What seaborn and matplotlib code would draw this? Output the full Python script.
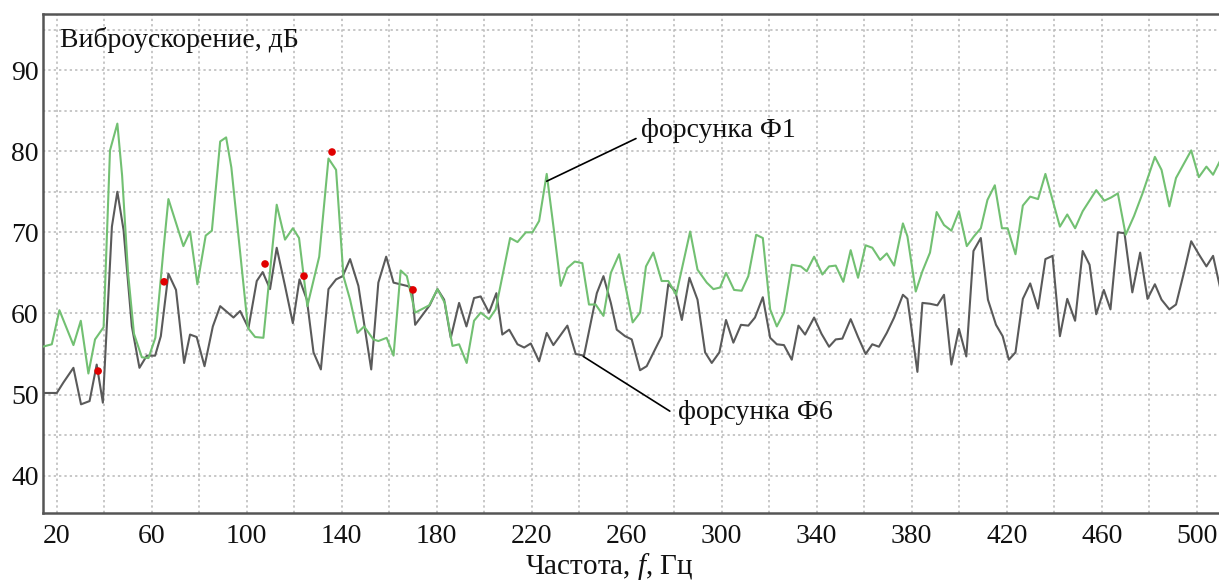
import numpy as np
import pandas as pd
import matplotlib
matplotlib.use("Agg")
import matplotlib.pyplot as plt
import seaborn as sns
from matplotlib.ticker import MultipleLocator

# ---------------- data ----------------
f1_freq = [14, 17.9, 21.1, 27, 30.1, 33.3, 36.1, 39.7, 42.4, 45.5, 47.5, 50, 52.5,
           55.8, 58.6, 61.5, 64.9, 67, 73.3, 76.1, 79.2, 82.7, 85.3, 88.8, 91.3,
           93.5, 100.5, 103.5, 107, 112.6, 116.1, 119.4, 122, 125.5, 130.5, 134.4,
           137.6, 140.7, 143.5, 146.6, 149.4, 153.3, 155.4, 158.9, 161.8, 164.8,
           167.4, 170.9, 176.8, 180.3, 183.4, 186.6, 189.4, 192.6, 195.7, 198.5,
           202, 204.8, 210.9, 214, 217.5, 220.3, 223.1, 226.3, 229.4, 232.2, 235,
           238.1, 241.3, 244.1, 246.9, 250.2, 253.3, 256.8, 262.5, 265.6, 268.1,
           271.2, 274.7, 277.5, 280.8, 286.7, 289.8, 293.7, 296.5, 299.3, 301.8,
           305.2, 308.4, 311.2, 314.5, 317.3, 320.4, 323.2, 326.2, 329.5, 333.3,
           335.8, 338.9, 342.4, 345.2, 348, 351.2, 354.3, 357.4, 360.6, 363.4,
           366.7, 369.5, 372.6, 376.3, 378.2, 381.7, 384.5, 387.7, 390.5, 393.6,
           396.7, 399.9, 403.2, 406.2, 409.1, 411.9, 415, 418, 420.4, 423.7, 426.8,
           429.9, 433.2, 436.3, 442.4, 445.5, 448.8, 452, 457.7, 461.1, 464, 466.8,
           470.1, 473.6, 477.2, 482.4, 485.2, 488.5, 491.3, 497.7, 500.9, 504.1,
           506.9, 510]
f1_level = [55.9, 56.2, 60.4, 56.1, 59.1, 52.6, 56.8, 58.3, 80.1, 83.4, 77, 65, 57.5,
            54.6, 54.5, 57, 67.8, 74.1, 68.3, 70.1, 63.6, 69.6, 70.2, 81.2, 81.7,
            78, 58.2, 57.1, 57, 73.4, 69.1, 70.5, 69.3, 60.9, 67, 79.1,
            77.7, 64.6, 61.7, 57.6, 58.4, 56.8, 56.6, 57, 54.8, 65.3,
            64.6, 60.1, 61, 63, 61.3, 56, 56.2, 53.9, 59.1, 60.1,
            59.3, 60.5, 69.3, 68.8, 70, 70, 71.4, 77.2, 70.1, 63.4, 65.6,
            66.4, 66.2, 61.1, 61.1, 59.7, 65, 67.3, 58.9, 60.1, 65.8,
            67.5, 64, 64, 62.3, 70.1, 65.4, 63.8, 63, 63.2, 65,
            62.9, 62.8, 64.6, 69.7, 69.3, 60.5, 58.4, 60.1, 66, 65.8,
            65.2, 67, 64.8, 65.8, 65.9, 63.9, 67.8, 64.4, 68.4, 68.1,
            66.6, 67.4, 65.9, 71.1, 69.5, 62.7, 65.2, 67.5, 72.5, 70.9,
            70.2, 72.6, 68.3, 69.5, 70.5, 74, 75.8, 70.5, 70.5, 67.3, 73.3,
            74.4, 74.1, 77.2, 70.7, 72.2, 70.5, 72.6, 75.2, 73.9, 74.3, 74.8,
            69.7, 72, 74.8, 79.3, 77.7, 73.2, 76.7, 80.1, 76.8, 78.1,
            77.1, 78.9]

f6_freq = [14, 20, 22.8, 27, 30.2, 33.8, 36.8, 39.4, 43.2, 45.5, 48.1, 51.6, 54.8,
           57.9, 61.4, 63.8, 67, 70.2, 73.6, 76.1, 78.9, 82.2, 85.7, 88.8, 94.4,
           97.2, 100.7, 104.2, 106.7, 109.8, 112.6, 116.1, 119.4, 122.2, 125.3,
           128.1, 131.2, 134.4, 137.6, 140.4, 143.5, 147, 149.8, 152.4, 155.4,
           158.7, 161.8, 167.4, 169.5, 170.9, 177, 180.3, 183.1, 185.9, 189.4,
           192.5, 195.7, 198.5, 202, 205.1, 207.6, 210.5, 214, 216.8, 219.6,
           223.1, 226.3, 229.1, 235, 238.5, 242, 247.4, 250.2, 253.3, 255.8,
           259.3, 262.1, 265.6, 268.4, 274.7, 277.5, 280.4, 283.2, 286.4, 289.8,
           293, 295.8, 299, 301.8, 304.9, 308.1, 311.2, 314, 317.3, 320.4, 323.2,
           326.2, 329.5, 332.3, 335.1, 338.9, 342, 345.2, 348, 350.8, 354.3,
           357.4, 360.6, 363.4, 366.2, 369.5, 372.6, 376.3, 378.2, 382.4, 384.5,
           387.7, 390.8, 393.6, 396.7, 399.9, 403, 406, 409.1, 412.1, 415.5,
           418.3, 420.9, 423.7, 426.8, 429.9, 433.2, 436.3, 439.3, 442.4, 445.5,
           448.8, 452, 454.9, 457.7, 460.9, 463.7, 466.8, 469.6, 472.9, 476.2,
           479.3, 482.4, 485.2, 488.5, 491.3, 494.6, 497.7, 500.9, 504.1, 506.9,
           510]
f6_level = [50.2, 50.2, 51.5, 53.3, 48.8, 49.2, 53.7, 49.0, 70.7, 75, 70.3, 58.4, 53.3,
            54.8, 54.8, 57.2, 64.9, 62.9, 53.9, 57.4, 57.1, 53.5, 58.4, 60.9, 59.5,
            60.3, 58.2, 64, 65.1, 63, 68.1, 63.4, 58.8, 64.2, 61.7,
            55.2, 53.1, 63, 64.2, 64.6, 66.7, 63.4, 58, 53.1, 63.8,
            67, 63.8, 63.4, 63.2, 58.6, 61, 63, 61.7, 57, 61.3,
            58.4, 61.9, 62.1, 60.1, 62.5, 57.4, 58, 56.2, 55.8, 56.3,
            54.1, 57.6, 56.1, 58.5, 55, 54.8, 62.5, 64.6, 61.3, 58,
            57.2, 56.8, 53, 53.5, 57.2, 63.6, 62.8, 59.2, 64.4, 61.7,
            55.2, 53.9, 55.2, 59.2, 56.4, 58.6, 58.5, 59.5, 62, 57, 56.2,
            56.1, 54.3, 58.5, 57.4, 59.5, 57.5, 55.9, 56.8, 56.9, 59.3,
            57.1, 55, 56.2, 55.9, 57.6, 59.5, 62.3, 61.8, 52.8, 61.3,
            61.2, 61, 62.3, 53.7, 58.1, 54.7, 67.7, 69.3, 61.7, 58.6,
            57.2, 54.3, 55.2, 61.8, 63.7, 60.6, 66.7, 67.1, 57.2, 61.8,
            59.1, 67.7, 66, 59.9, 62.9, 60.5, 70, 69.9, 62.6, 67.5,
            61.8, 63.6, 61.7, 60.5, 61.1, 65, 68.9, 67.3, 65.8, 67.1,
            63]

dot_freq = [37.4, 65.2, 107.7, 124.1, 135.9, 170.0]
dot_level = [52.9, 63.9, 66.1, 64.6, 79.9, 62.9]

series_names = ["форсунка Ф1", "форсунка Ф6"]
y_title = "Виброускорение, дБ"
x_title = "Частота, $\\mathit{f}$, Гц"
x_ticks = [20, 60, 100, 140, 180, 220, 260, 300, 340, 380, 420, 460, 500]
y_ticks = [40, 50, 60, 70, 80, 90]

# ---------------- style ----------------
sns.set_style("white")
plt.rcParams["font.family"] = ["Liberation Serif", "DejaVu Serif"]
plt.rcParams["mathtext.fontset"] = "custom"
plt.rcParams["mathtext.rm"] = "Liberation Serif"
plt.rcParams["mathtext.it"] = "Liberation Serif:italic"

FS = 20
green = "#72c072"
grey = "#5a5a5a"

fig = plt.figure(figsize=(12.19, 5.87), dpi=100)
ax = fig.add_axes([0.0353, 0.126, 0.9647, 0.850])

df1 = pd.DataFrame({"f": f1_freq, "L": f1_level})
df6 = pd.DataFrame({"f": f6_freq, "L": f6_level})
dfd = pd.DataFrame({"f": dot_freq, "L": dot_level})

sns.lineplot(data=df6, x="f", y="L", ax=ax, color=grey, lw=1.5,
             estimator=None, sort=False, zorder=3)
sns.lineplot(data=df1, x="f", y="L", ax=ax, color=green, lw=1.5,
             estimator=None, sort=False, zorder=3)
sns.scatterplot(data=dfd, x="f", y="L", ax=ax, color="#e00000", s=30,
                edgecolor="none", zorder=5)

ax.set_xlim(14.2, 509.4)
ax.set_ylim(35.4, 96.9)
ax.set_xticks(x_ticks)
ax.set_yticks(y_ticks)
ax.xaxis.set_minor_locator(MultipleLocator(20))
ax.yaxis.set_minor_locator(MultipleLocator(5))
ax.grid(True, which="both", color="#b8b8b8", lw=1.1, linestyle=(0, (1.5, 2.0)))
ax.set_axisbelow(True)
ax.tick_params(axis="both", which="both", length=0, labelsize=FS, colors="#111111")
ax.tick_params(axis="x", pad=8)
ax.tick_params(axis="y", pad=3)

for side in ["left", "bottom", "top"]:
    ax.spines[side].set_color("#555555")
    ax.spines[side].set_linewidth(1.8)
ax.spines["right"].set_visible(False)

ax.set_xlabel("")
ax.set_ylabel("")
ax.text(0.0145, 0.948, y_title, transform=ax.transAxes, fontsize=FS,
        ha="left", va="center", color="#111111")
fig.text(0.5, 0.008, x_title, fontsize=21, ha="center", va="bottom", color="#111111")

ax.annotate(series_names[0], xy=(226.3, 76.3), xytext=(265.8, 82.6),
            fontsize=FS, ha="left", va="center", color="#111111",
            arrowprops=dict(arrowstyle="-", color="black", lw=1.2,
                            shrinkA=1, shrinkB=0, relpos=(0, 0.25)))
ax.annotate(series_names[1], xy=(241.7, 54.7), xytext=(281.5, 47.8),
            fontsize=FS, ha="left", va="center", color="#111111",
            arrowprops=dict(arrowstyle="-", color="black", lw=1.2,
                            shrinkA=4, shrinkB=0, relpos=(0, 0.35)))

fig.savefig("out.png", dpi=100, facecolor="white")
